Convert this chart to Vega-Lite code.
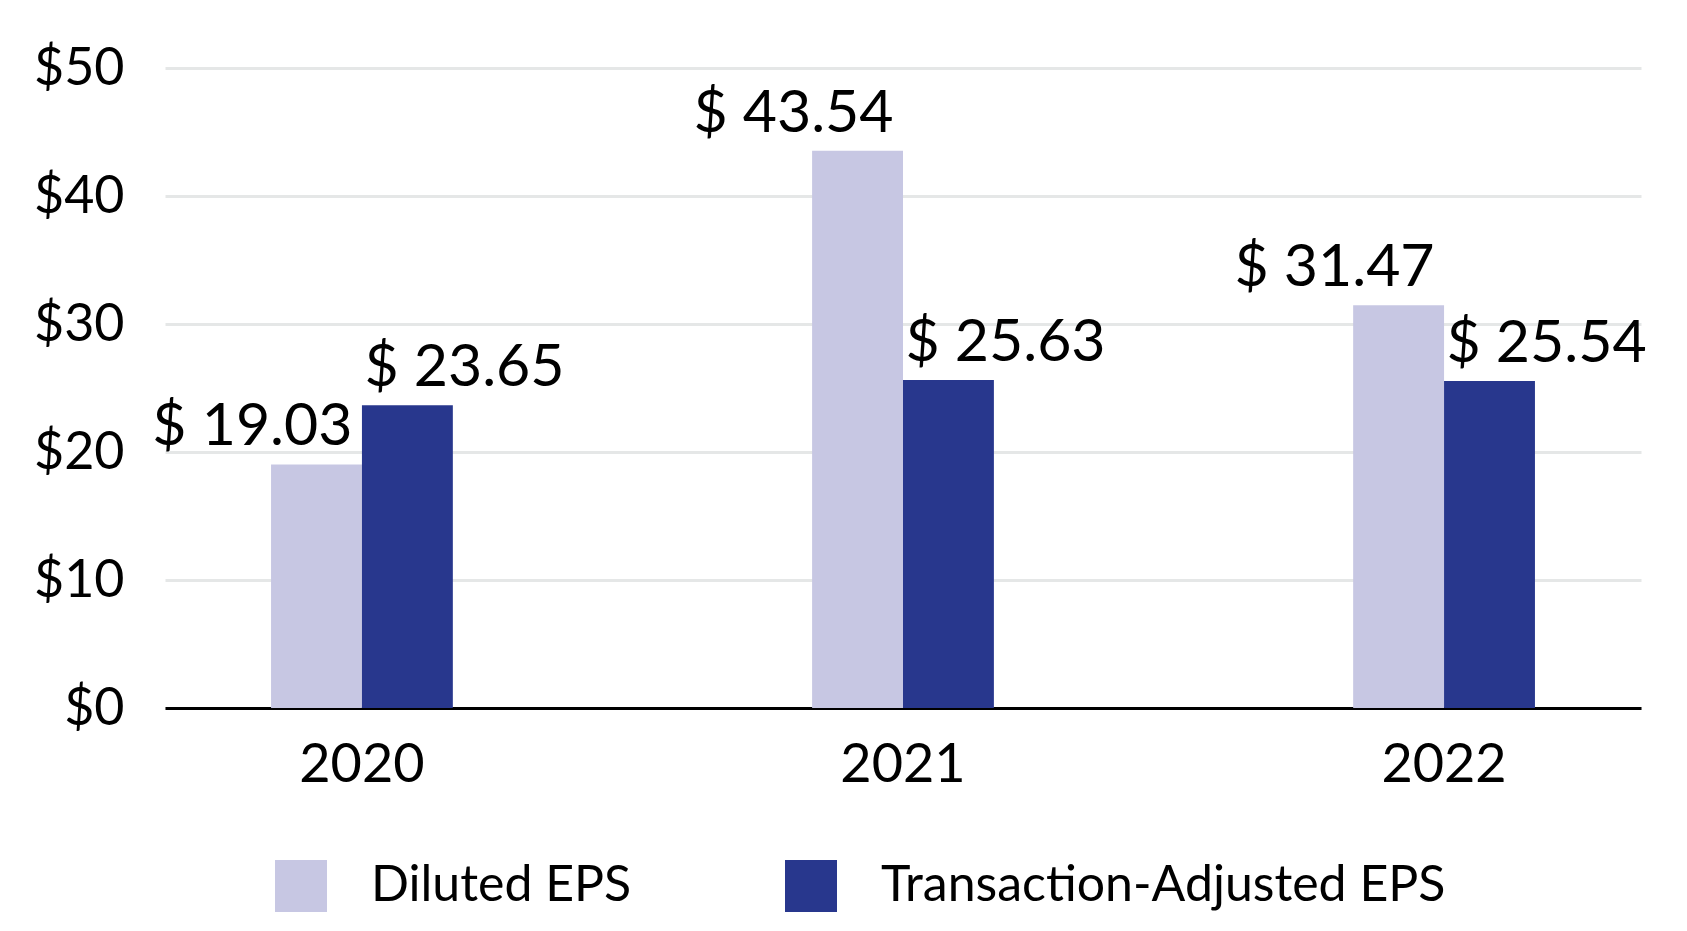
{
  "$schema": "https://vega.github.io/schema/vega-lite/v6.json",
  "width": 1476,
  "height": 640,
  "autosize": "none",
  "padding": {"left": 165, "top": 68, "right": 46, "bottom": 223},
  "background": "white",
  "data": {
    "values": [
      {"year": "2020", "series": "Diluted EPS", "value": 19.03},
      {"year": "2020", "series": "Transaction-Adjusted EPS", "value": 23.65},
      {"year": "2021", "series": "Diluted EPS", "value": 43.54},
      {"year": "2021", "series": "Transaction-Adjusted EPS", "value": 25.63},
      {"year": "2022", "series": "Diluted EPS", "value": 31.47},
      {"year": "2022", "series": "Transaction-Adjusted EPS", "value": 25.54}
    ]
  },
  "transform": [{"calculate": "'$ ' + format(datum.value, '.2f')", "as": "label"}],
  "encoding": {
    "x": {
      "field": "year",
      "type": "nominal",
      "scale": {"paddingInner": 0.664, "paddingOuter": 0.196},
      "axis": {
        "title": null,
        "labelAngle": 0,
        "ticks": false,
        "domain": true,
        "domainColor": "#000000",
        "domainWidth": 3,
        "labelFontSize": 54,
        "labelColor": "#000000",
        "labelPadding": 30,
        "labelFont": "Lato"
      }
    },
    "xOffset": {
      "field": "series",
      "type": "nominal",
      "sort": ["Diluted EPS", "Transaction-Adjusted EPS"],
      "scale": {"paddingInner": 0, "paddingOuter": 0}
    },
    "y": {
      "field": "value",
      "type": "quantitative",
      "scale": {"domain": [0, 50]},
      "axis": {
        "title": null,
        "values": [0, 10, 20, 30, 40, 50],
        "labelExpr": "'$' + datum.value",
        "domain": false,
        "ticks": false,
        "grid": true,
        "gridColor": "#e5e7e7",
        "gridWidth": 3,
        "labelFontSize": 52,
        "labelColor": "#000000",
        "labelPadding": 41,
        "labelFont": "Lato"
      }
    }
  },
  "layer": [
    {
      "mark": {"type": "bar"},
      "encoding": {
        "color": {
          "field": "series",
          "type": "nominal",
          "sort": ["Diluted EPS", "Transaction-Adjusted EPS"],
          "scale": {"domain": ["Diluted EPS", "Transaction-Adjusted EPS"], "range": ["#c7c7e3", "#28378d"]},
          "legend": {
            "title": null,
            "orient": "none",
            "legendX": 110,
            "legendY": 792,
            "direction": "horizontal",
            "symbolType": "square",
            "symbolSize": 2704,
            "symbolStrokeWidth": 0,
            "labelFontSize": 50,
            "labelFont": "Lato",
            "labelColor": "#000000",
            "labelOffset": 44,
            "labelLimit": 0,
            "columnPadding": 153,
            "gridAlign": "each"
          }
        }
      }
    },
    {
      "transform": [{"filter": "datum.series === 'Diluted EPS'"}],
      "mark": {"type": "text", "align": "right", "baseline": "alphabetic", "dx": 36, "dy": -19, "fontSize": 59, "font": "Lato", "color": "#000000"},
      "encoding": {"text": {"field": "label"}}
    },
    {
      "transform": [{"filter": "datum.series === 'Transaction-Adjusted EPS'"}],
      "mark": {"type": "text", "align": "left", "baseline": "alphabetic", "dx": -43, "dy": -19, "fontSize": 59, "font": "Lato", "color": "#000000"},
      "encoding": {"text": {"field": "label"}}
    }
  ],
  "config": {"view": {"stroke": null}, "font": "Lato"}
}
